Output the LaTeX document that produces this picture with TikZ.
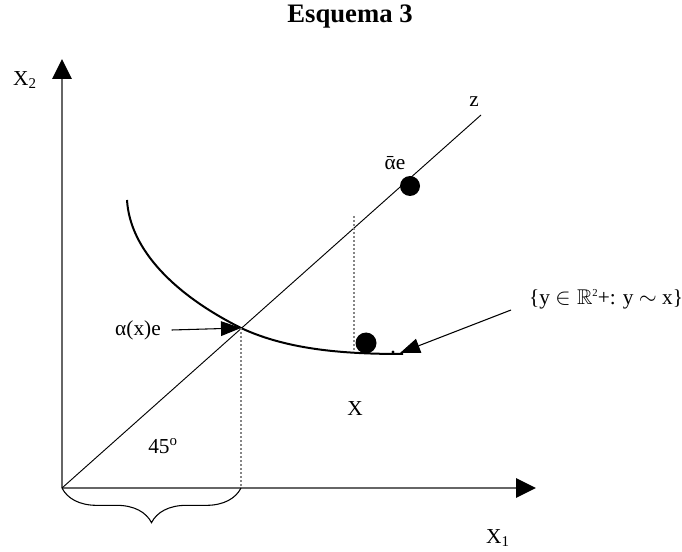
\documentclass[tikz,border=0pt]{standalone}
\usepackage{fontspec}
\usepackage{amssymb}
\setmainfont{Liberation Serif}
\usetikzlibrary{arrows.meta,decorations.pathreplacing}
\definecolor{axisgray}{HTML}{666666}
\definecolor{dotgray}{HTML}{858585}
\tikzset{
  axis/.style={draw=axisgray,line width=1.5pt,-{Triangle[length=15pt,width=14.5pt,color=black,fill=black]}},
  ray/.style={draw=black,line width=0.7pt},
  indiff/.style={draw=black,line width=1.5pt},
  guide/.style={draw=dotgray,line width=1.1pt,dash pattern=on 1.5pt off 1.5pt},
  pointer/.style={-{Triangle[length=15pt,width=11pt]},draw=black,line width=0.8pt},
  bigdot/.style={fill=black,draw=none},
  lbl/.style={font=\fontsize{16}{18}\selectfont,inner sep=0pt},
  title/.style={font=\fontsize{20}{24}\selectfont\bfseries,inner sep=0pt}
}
\newcommand{\tinysup}[1]{\raisebox{0.75ex}{\fontsize{8}{8}\selectfont #1}}

\begin{document}
\begin{tikzpicture}[x=0.75pt,y=-0.75pt]
  \useasboundingbox (0,0) rectangle (682,552);
  % axes
  \coordinate (O) at (62,488);
  \coordinate (xtip) at (536,488);
  \coordinate (ytip) at (62,59);
  \coordinate (ztip) at (481,115);
  \draw[axis] (O) -- (xtip);
  \draw[axis] (O) -- (ytip);
  \draw[ray] (O) -- (ztip);
  % indifference curve
  \coordinate (hit) at (241,328);
  \draw[indiff] (127,200) .. controls (130,250) and (175,295) .. (hit)
    .. controls (290,351) and (350,354) .. (403,354);
  \coordinate (curveend) at (400,353);
  \coordinate (hitfoot) at (241,488);
  \coordinate (xtop) at (354,216);
  \coordinate (xbot) at (354,350);
  \draw[guide] (hit) -- (hitfoot);
  \draw[guide] (xtop) -- (xbot);
  % points
  \fill[bigdot] (410,186) circle (10);
  \fill[bigdot] (366,343) circle (10.5);
  \fill[bigdot] (393,352) circle (1.6);
  % labels
  \node[title] (head) at (350,17) {Esquema 3};
  \node[lbl] (x2) at (25,80) {X\textsubscript{2}};
  \node[lbl] (x1) at (498,538) {X\textsubscript{1}};
  \node[lbl] (zlbl) at (474,102) {z};
  \node[lbl] (abar) at (395,163) {\={α}e};
  \node[lbl] (alpha) at (138,330) {α(x)e};
  \node[lbl] (setlbl) at (606,299) {\{y $\in\mathbb{R}$\tinysup{2}+: y $\sim$ x\}};
  \node[lbl] (xlbl) at (355,409) {X};
  \node[lbl] (deg) at (163,446) {45\textsuperscript{o}};
  \coordinate (ptr) at (511,310);
  \draw[pointer] (alpha.east) ++(8pt,0) -- (hit);
  \draw[pointer] (ptr) -- (curveend);
  % brace
  \draw[decorate,decoration={brace,amplitude=26pt},line width=0.8pt] (hitfoot) -- (O);
\end{tikzpicture}
\end{document}
